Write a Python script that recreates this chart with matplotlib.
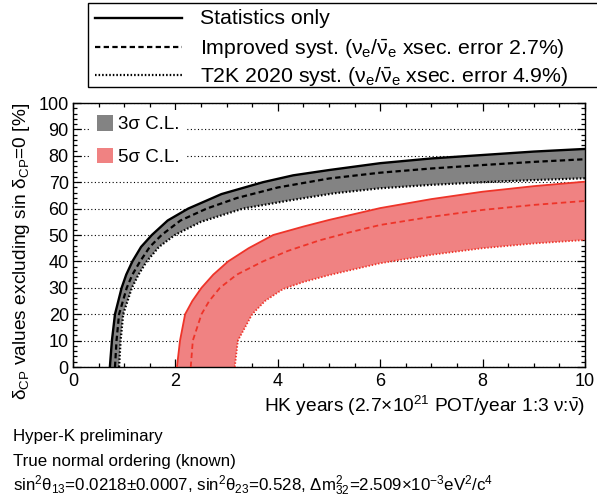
import matplotlib
matplotlib.use("Agg")
import matplotlib.pyplot as plt
from matplotlib.lines import Line2D
from matplotlib.patches import Patch, Rectangle
from matplotlib.ticker import MultipleLocator

plt.rcParams['font.family'] = ['Liberation Sans', 'DejaVu Sans']
plt.rcParams['mathtext.fontset'] = 'custom'
plt.rcParams['mathtext.rm'] = 'Liberation Sans'
plt.rcParams['mathtext.it'] = 'Liberation Sans:italic'
plt.rcParams['mathtext.bf'] = 'Liberation Sans:bold'
plt.rcParams['mathtext.sf'] = 'Liberation Sans'
plt.rcParams['mathtext.default'] = 'regular'

# ---- 3 sigma curves (HK years, % of delta_CP values excluded) ----
s3_stat_x = [0.72, 0.76, 0.82, 0.95, 1.04, 1.16, 1.33, 1.54, 1.85, 2.25, 2.9, 3.71,
             4.3, 5.0, 6.0, 7.0, 8.0, 9.0, 10.0]
s3_stat_y = [0, 10, 20, 30, 35, 40, 45.5, 50, 55.5, 60, 65.5, 70,
             72.6, 74.6, 77.2, 79.0, 80.3, 81.6, 82.6]
s3_impr_x = [0.82, 0.85, 0.90, 1.05, 1.16, 1.31, 1.50, 1.73, 2.1, 2.61, 3.2, 4.0,
             5.0, 6.0, 7.0, 8.0, 9.0, 10.0]
s3_impr_y = [0, 10, 20, 30, 35, 40, 45.5, 50, 55.5, 60, 64, 68,
             71.4, 73.6, 75.2, 76.5, 77.7, 78.7]
s3_t2k_x = [0.90, 0.93, 0.98, 1.15, 1.28, 1.44, 1.68, 1.99, 2.5, 3.32, 4.2, 5.1,
            6.0, 7.0, 8.0, 9.0, 10.0]
s3_t2k_y = [0, 10, 20, 30, 35, 40, 45.5, 50, 55, 60, 63, 65.8,
            67.7, 69.0, 70.0, 70.8, 71.5]

# ---- 5 sigma curves ----
s5_stat_x = [2.03, 2.09, 2.19, 2.33, 2.51, 2.74, 3.03, 3.43, 3.91, 4.5, 5.0,
             6.0, 7.0, 8.0, 9.0, 10.0]
s5_stat_y = [0, 10, 20, 25, 30, 35, 40, 45, 50, 53.2, 55.7,
             60.2, 63.6, 66.4, 68.5, 70.2]
s5_impr_x = [2.30, 2.34, 2.51, 2.66, 2.87, 3.2, 3.71, 4.2, 4.82, 5.4, 6.0,
             7.0, 8.0, 9.0, 10.0]
s5_impr_y = [0, 10, 20, 25, 30, 35, 40, 44, 48, 51, 53.8,
             56.9, 59.5, 61.4, 62.9]
s5_t2k_x = [3.16, 3.22, 3.50, 3.75, 4.1, 4.5, 5.0, 6.0, 7.0, 8.0, 9.0, 10.0]
s5_t2k_y = [0, 10, 20, 25, 29.5, 32.2, 34.8, 39.3, 42.5, 45, 46.8, 48.1]

legend_labels = [
    "Statistics only",
    r"Improved syst. ($\nu_e/\bar{\nu}_e$ xsec. error 2.7%)",
    r"T2K 2020 syst. ($\nu_e/\bar{\nu}_e$ xsec. error 4.9%)",
]
cl_labels = ["3σ C.L.", "5σ C.L."]
info_lines = [
    "Hyper-K preliminary",
    "True normal ordering (known)",
    r"sin$^2\theta_{13}$=0.0218$\pm$0.0007, sin$^2\theta_{23}$=0.528, "
    r"$\Delta m^2_{32}$=2.509$\times$10$^{-3}$eV$^2$/c$^4$",
]

W, H = 597, 498
fig = plt.figure(figsize=(W / 100, H / 100), dpi=100)


def fx(px):
    return px / W


def fy(py):
    return 1 - py / H


ax = fig.add_axes([fx(73), fy(367), fx(585) - fx(73), fy(103) - fy(367)])

GREY = '#838383'
PINK = '#F08282'
RED = '#EE3429'
dash = (0, (2.4, 1.5))
dot = (0, (0.7, 0.9))

# horizontal dotted grid
ax.set_axisbelow(True)
ax.yaxis.grid(True, color='black', linewidth=0.8, linestyle=(0, (1.0, 2.2)))


def band(ax, xa, ya, xb, yb, color):
    xs = list(xa) + list(xb)[::-1]
    ys = list(ya) + list(yb)[::-1]
    ax.fill(xs, ys, color=color, linewidth=0, zorder=2)


band(ax, s3_stat_x, s3_stat_y, s3_t2k_x, s3_t2k_y, GREY)
band(ax, s5_stat_x, s5_stat_y, s5_t2k_x, s5_t2k_y, PINK)

ax.plot(s3_stat_x, s3_stat_y, color='black', lw=1.7, zorder=3)
ax.plot(s3_impr_x, s3_impr_y, color='black', lw=1.6, linestyle=dash, zorder=3)
ax.plot(s3_t2k_x, s3_t2k_y, color='black', lw=1.6, linestyle=dot, zorder=3)
ax.plot(s5_stat_x, s5_stat_y, color=RED, lw=1.3, zorder=3)
ax.plot(s5_impr_x, s5_impr_y, color=RED, lw=1.3, linestyle=(0, (3, 2)), zorder=3)
ax.plot(s5_t2k_x, s5_t2k_y, color=RED, lw=1.3, linestyle=(0, (0.8, 1.0)), zorder=3)

ax.set_xlim(0, 10)
ax.set_ylim(0, 100)
ax.xaxis.set_major_locator(MultipleLocator(2))
ax.xaxis.set_minor_locator(MultipleLocator(0.5))
ax.yaxis.set_major_locator(MultipleLocator(10))
ax.yaxis.set_minor_locator(MultipleLocator(2))
ax.tick_params(which='both', direction='in', top=True, right=True, width=0.9,
               labelsize=13)
ax.tick_params(which='major', length=6)
ax.tick_params(which='minor', length=3)
ax.tick_params(axis='x', pad=4)
ax.tick_params(axis='y', pad=3)
for sp in ax.spines.values():
    sp.set_linewidth(1.0)

# confidence-level key inside the axes
leg = ax.legend(handles=[Patch(facecolor=GREY, edgecolor='none'),
                         Patch(facecolor=PINK, edgecolor='none')],
                labels=cl_labels, loc='upper left',
                bbox_to_anchor=(0.035, 0.975), fontsize=13.5,
                frameon=True, fancybox=False, framealpha=1,
                facecolor='white', edgecolor='none',
                handlelength=0.9, handleheight=0.9, handletextpad=0.25,
                labelspacing=0.75, borderpad=0.3, borderaxespad=0)
leg.set_zorder(5)

# axis titles
fig.text(fx(585), fy(406), r"HK years (2.7$\times$10$^{21}$ POT/year 1:3 $\nu$:$\bar{\nu}$)",
         ha='right', va='center', fontsize=13.8)
fig.text(fx(22), fy(103), r"$\delta_{CP}$ values excluding sin $\delta_{CP}$=0 [%]",
         rotation=90, ha='center', va='top', fontsize=13.8)

# systematics key above the axes
box_l, box_r, box_t, box_b = 88, 598, 3, 87
fig.patches.append(Rectangle((fx(box_l), fy(box_b)), fx(box_r) - fx(box_l),
                             fy(box_t) - fy(box_b), transform=fig.transFigure,
                             facecolor='white', edgecolor='black', linewidth=1.0))
row_y = [18, 47, 75]
styles = [('-', 1.7), (dash, 1.6), (dot, 1.6)]
for yy, (ls, lw), lab in zip(row_y, styles, legend_labels):
    fig.lines.append(Line2D([fx(95), fx(182)], [fy(yy), fy(yy)], transform=fig.transFigure,
                            color='black', linestyle=ls, linewidth=lw))
    fig.text(fx(200), fy(yy + 6.5), lab, ha='left', va='baseline', fontsize=15.3)

# oscillation-parameter notes
for yy, txt in zip([441, 466, 491], info_lines):
    fig.text(fx(13), fy(yy), txt, ha='left', va='baseline', fontsize=12.2)

fig.savefig('out.png', dpi=100)
